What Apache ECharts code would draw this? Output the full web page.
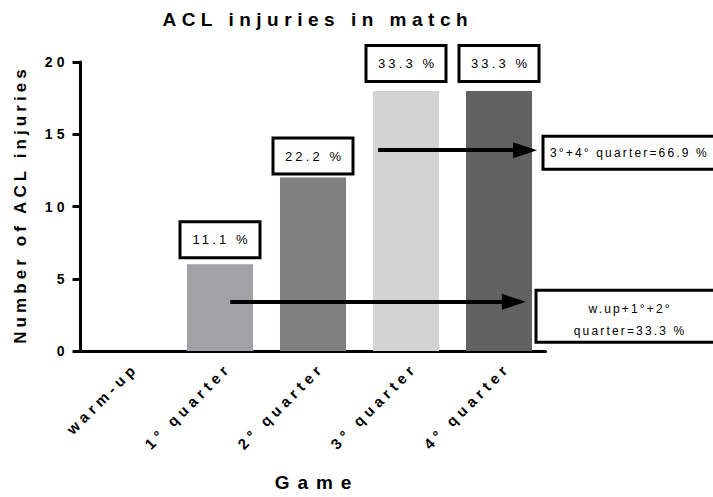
<!DOCTYPE html>
<html><head><meta charset="utf-8">
<script src="https://cdn.jsdelivr.net/npm/echarts@6/dist/echarts.min.js"></script>
<style>
html,body{margin:0;padding:0;background:#fff}
#c{width:713px;height:497px}
</style></head><body><div id="c"></div>
<script>
// ---- data ----
const categories = ['warm-up', '1° quarter', '2° quarter', '3° quarter', '4° quarter'];
const injuries = [0, 6, 12, 18, 18];
const yMin = 0, yMax = 20, yStep = 5;
const titleText = 'ACL injuries in match';
const xName = 'Game';
const yName = 'Number of ACL injuries';
// annotation arrows (x in category-index units, y in injuries)
const arrowStarts = [[2.70, 13.9], [1.11, 3.4]];
const arrowEnds = [[4.28, 13.9], [4.16, 3.4]];
// annotation boxes (anchor = left-middle of box, same units)
const noteTexts = ['3°+4° quarter=66.9 %', 'w.up+1°+2°\nquarter=33.3 %'];
const noteAnchors = [[4.473, 13.72], [4.398, 2.41]];

// ---- styles ----
const barColors = ['#a0a0a0', '#a2a1a6', '#808080', '#d3d3d3', '#626262'];
const labelGaps = [8, 8, 5, 11, 11];
const noteBoxes = [
  {w: 200, h: 33, textDx: 7, textDy: 0, align: 'left'},
  {w: 200, h: 52, textDx: 93, textDy: 4, align: 'center'}
];
const FONT = 'Liberation Sans, Arial, sans-serif';
const total = injuries.reduce((a, b) => a + b, 0);

const chart = echarts.init(document.getElementById('c'), null, {renderer: 'svg'});
chart.setOption({
  animation: false,
  backgroundColor: '#fff',
  textStyle: {fontFamily: FONT, color: '#000'},
  title: {
    text: titleText, left: 310, top: 5, textAlign: 'center',
    textStyle: {fontFamily: FONT, fontSize: 19, fontWeight: 'bold', color: '#000'}
  },
  grid: {left: 80.5, right: 167.5, top: 62, bottom: 145, containLabel: false},
  xAxis: [{
    type: 'category', data: categories, boundaryGap: true,
    axisLine: {onZero: false, lineStyle: {color: '#000', width: 3}},
    axisTick: {alignWithLabel: true, length: 8, lineStyle: {color: '#000', width: 3}},
    axisLabel: {rotate: 45, interval: 0, margin: 12, verticalAlign: 'top', fontSize: 15, fontWeight: 'bold', color: '#000', fontFamily: FONT},
    name: xName, nameLocation: 'middle', nameGap: 122,
    nameTextStyle: {fontSize: 19, fontWeight: 'bold', color: '#000', fontFamily: FONT}
  }, {
    type: 'value', min: -0.5, max: 4.5, show: false
  }],
  yAxis: {
    type: 'value', min: yMin, max: yMax, interval: yStep,
    axisLine: {show: true, onZero: false, lineStyle: {color: '#000', width: 3}},
    axisTick: {show: true, length: 8, lineStyle: {color: '#000', width: 3}},
    splitLine: {show: false},
    axisLabel: {margin: 16, fontSize: 14, fontWeight: 'bold', color: '#000', fontFamily: FONT},
    name: yName, nameLocation: 'middle', nameGap: 52, nameRotate: 90,
    nameTextStyle: {fontSize: 17, fontWeight: 'bold', color: '#000', fontFamily: FONT}
  },
  series: [{
    type: 'bar', barCategoryGap: '29%',
    data: injuries.map((v, i) => ({
      value: v, itemStyle: {color: barColors[i]},
      label: {show: v > 0, distance: labelGaps[i]}
    })),
    label: {
      position: 'top',
      formatter: p => (p.value / total * 100).toFixed(1) + ' %',
      backgroundColor: '#fff', borderColor: '#000', borderWidth: 3,
      width: 77, height: 33, lineHeight: 33, align: 'center',
      fontSize: 13, color: '#000', fontFamily: FONT
    }
  }, {
    type: 'line', xAxisIndex: 1, data: [], silent: true,
    markLine: {
      silent: true, symbol: ['none', 'triangle'], symbolSize: [16, 24],
      lineStyle: {color: '#000', width: 4, type: 'solid'},
      itemStyle: {color: '#000'},
      label: {show: false},
      data: arrowStarts.map((s, i) => [{coord: s}, {coord: arrowEnds[i]}])
    }
  }]
});

// annotation boxes placed through the chart's own scales
const graphics = [];
noteTexts.forEach((t, i) => {
  const p = chart.convertToPixel({xAxisIndex: 1, yAxisIndex: 0}, noteAnchors[i]);
  const b = noteBoxes[i];
  graphics.push({
    type: 'rect', z: 10,
    shape: {x: p[0], y: p[1] - b.h / 2, width: b.w, height: b.h},
    style: {fill: '#fff', stroke: '#000', lineWidth: 3}
  });
  graphics.push({
    type: 'text', z: 11,
    x: p[0] + b.textDx, y: p[1] + b.textDy,
    style: {
      text: t, fill: '#000', font: '12px ' + FONT,
      align: b.align, verticalAlign: 'middle', lineHeight: 22
    }
  });
});
chart.setOption({graphic: graphics});

// letter spacing (tracking) like the original figure
function spacingFor(txt) {
  if (txt === titleText) return 0.29;
  if (txt === xName) return 0.42;
  if (txt === yName) return 0.24;
  if (categories.indexOf(txt) >= 0) return 0.3;
  if (/^\d+$/.test(txt)) return 0.3;
  if (/^\d+\.\d %$/.test(txt)) return 0.24;
  return 0.18;
}
function track() {
  document.querySelectorAll('#c svg text').forEach(t => {
    const txt = t.textContent;
    const em = spacingFor(txt);
    const fs = parseFloat(getComputedStyle(t).fontSize) || 12;
    const s = em * fs;
    t.style.letterSpacing = s + 'px';
    const anchor = t.getAttribute('text-anchor') || 'start';
    const dx = anchor === 'end' ? s : anchor === 'middle' ? s / 2 : 0;
    t.setAttribute('dx', dx.toFixed(2));
  });
}
track();
chart.on('finished', track);
</script></body></html>
